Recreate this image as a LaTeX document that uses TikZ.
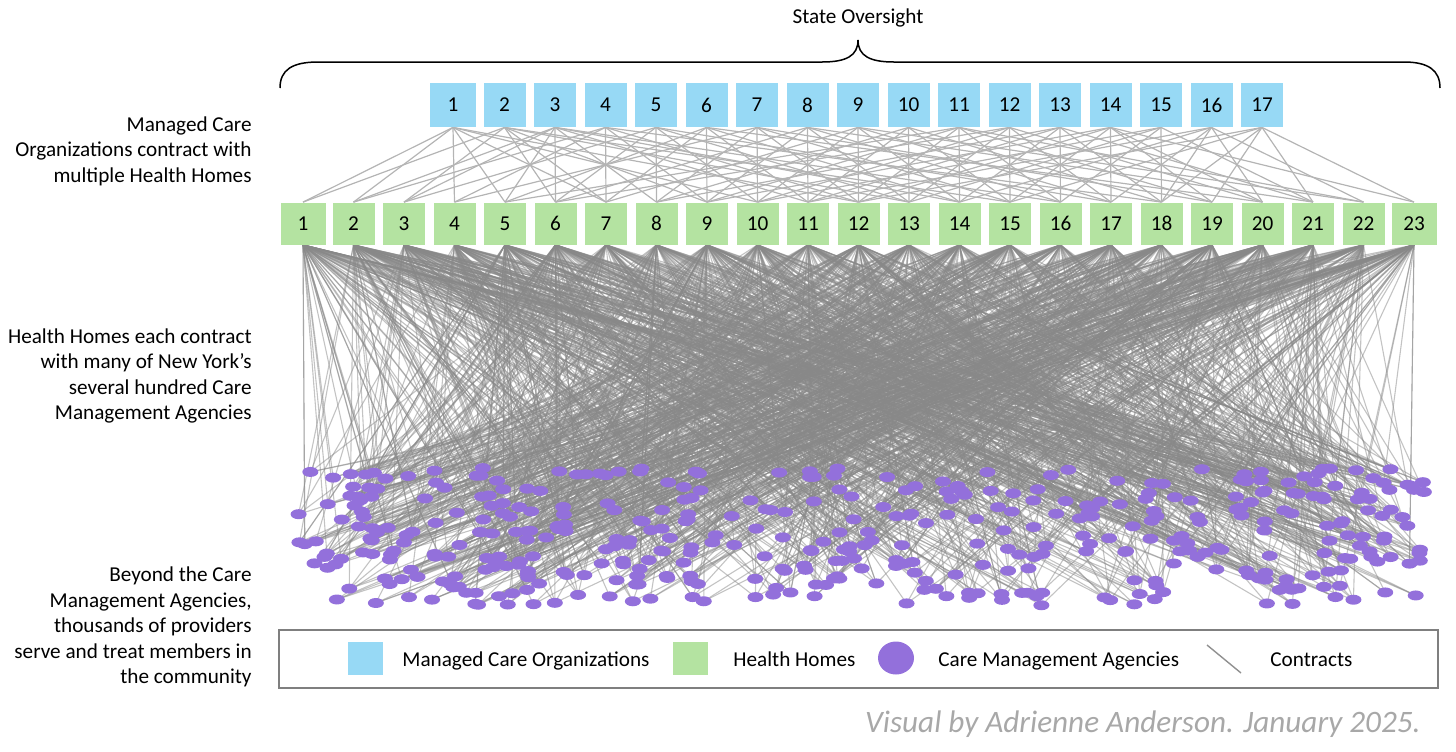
\documentclass[tikz,border=0pt]{standalone}
\usepackage{fontspec}
\setmainfont{Carlito}
\usetikzlibrary{shapes.geometric}
\definecolor{mcoblue}{HTML}{97D9F5}
\definecolor{hhgreen}{HTML}{B4E3A1}
\definecolor{cmapurple}{HTML}{9370DB}
\definecolor{edgegray}{HTML}{888888}
\definecolor{lightedge}{HTML}{B4B4B4}
\definecolor{creditgray}{HTML}{A8A8A8}
\definecolor{legendgray}{HTML}{7F7F7F}
\pgfdeclarelayer{bg}
\pgfsetlayers{bg,main}
\begin{document}
\begin{tikzpicture}[x=0.5pt,y=-0.5pt,
  txt/.style={font=\fontsize{10.6}{12.75}\selectfont, inner sep=0pt},
  mco/.style={fill=mcoblue, minimum width=21pt, minimum height=22pt, inner sep=0pt, txt},
  hh/.style={fill=hhgreen, minimum width=21pt, minimum height=21pt, inner sep=0pt, txt},
  cma/.style={ellipse, fill=cmapurple, minimum width=8pt, minimum height=5pt, inner sep=0pt},
  mcoedge/.style={draw=lightedge, line width=0.6pt},
  hhedge/.style={draw=edgegray, line width=0.55pt, opacity=0.5},
  lbl/.style={txt, align=right, anchor=east},
  legtxt/.style={txt, anchor=base west},
]
\useasboundingbox (0,0) rectangle (1456,751);

% State oversight brace
\node[txt] (state) at (858,18) {State Oversight};
\coordinate (brL) at (280,88);
\coordinate (brT) at (858,40);
\coordinate (brR) at (1440,88);
\draw[line width=0.75pt] (brL) .. controls (280,70) and (292,62) .. (318,62) -- (822,62)
  .. controls (846,62) and (858,56) .. (brT)
  .. controls (858,56) and (870,62) .. (894,62) -- (1404,62)
  .. controls (1428,62) and (1440,70) .. (brR);

% Left labels
\node[lbl] (lab1) at (252,151) {Managed Care\\Organizations contract with\\multiple Health Homes};
\node[lbl] (lab2) at (252,376) {Health Homes each contract\\with many of New York’s\\several hundred Care\\Management Agencies};
\node[lbl] (lab3) at (252,627) {Beyond the Care\\Management Agencies,\\thousands of providers\\serve and treat members in\\the community};

% Managed Care Organizations
\node[mco, minimum width=23pt] (m1) at (453,105) {1};
\foreach \j in {2,...,17} {
  \pgfmathsetmacro\xx{454+(\j-1)*50.5}
  \node[mco] (m\j) at (\xx,105) {\j};
}

% Health Homes
\node[hh, minimum width=22.5pt] (h1) at (303,223.5) {1};
\foreach \i in {2,...,22} {
  \pgfmathsetmacro\xx{303+(\i-1)*50.5}
  \node[hh] (h\i) at (\xx,223.5) {\i};
}
\node[hh, minimum width=22.5pt] (h23) at (1414,223.5) {23};

% MCO - HH contracts
\begin{pgfonlayer}{bg}
\foreach \j/\hs in {1/{1,2,4,5,7,10,12}, 2/{1,3,6,7,9,13,15}, 3/{2,3,5,6,8,11,14,16},
  4/{2,4,7,9,12,18}, 5/{3,6,8,10,13,17}, 6/{5,7,9,11,14,20},
  7/{4,8,10,12,15,19}, 8/{6,9,11,13,16,21}, 9/{7,10,12,14,17,22},
  10/{8,11,13,15,18}, 11/{5,9,12,14,16,19,22}, 12/{6,10,13,15,17,20},
  13/{8,11,14,16,18,21}, 14/{9,12,15,17,19,20,23}, 15/{10,13,16,18,21},
  16/{11,14,17,18,20,22}, 17/{12,15,18,19,21,23}} {
  \foreach \h in \hs {
    \draw[mcoedge] (m\j.south) -- (h\h.north);
  }
}
\end{pgfonlayer}

% Care Management Agencies
\pgfmathsetseed{4242}
\foreach \i in {1,...,430} {
  \pgfmathsetmacro\cx{298+1127*rnd}
  \pgfmathsetmacro\cy{468+138*rnd}
  \node[cma] (d\i) at (\cx,\cy) {};
}
\begin{pgfonlayer}{bg}
\foreach \i in {1,...,430} {
  \pgfmathtruncatemacro\K{random(3,5)}
  \foreach \k in {1,...,\K} {
    \pgfmathtruncatemacro\h{random(1,23)}
    \draw[hhedge] (h\h.south) -- (d\i.center);
  }
}
\end{pgfonlayer}

% Legend
\node[draw=legendgray, line width=0.75pt, minimum width=579.5pt, minimum height=29pt, inner sep=0pt] (legend) at (858.5,659) {};
\node[fill=mcoblue, minimum width=17.5pt, minimum height=16.5pt, inner sep=0pt] (lgm) at (365.5,658) {};
\node[legtxt] (lgmt) at (402,666) {Managed Care Organizations};
\node[fill=hhgreen, minimum width=17.5pt, minimum height=16.5pt, inner sep=0pt] (lgh) at (690.5,658) {};
\node[legtxt] (lght) at (733,666) {Health Homes};
\node[ellipse, fill=cmapurple, minimum width=18pt, minimum height=16.5pt, inner sep=0pt] (lgc) at (896,658) {};
\node[legtxt] (lgct) at (938,666) {Care Management Agencies};
\coordinate (lgl1) at (1207,645);
\coordinate (lgl2) at (1241,673);
\draw[draw=lightedge!80!black, line width=0.7pt] (lgl1) -- (lgl2);
\node[legtxt] (lglt) at (1270,666) {Contracts};

% Credit
\node[anchor=east, inner sep=0pt, font=\fontsize{15.6}{18}\selectfont\itshape, text=creditgray] (credit) at (1421,724) {Visual by Adrienne Anderson. January 2025.};
\end{tikzpicture}
\end{document}
